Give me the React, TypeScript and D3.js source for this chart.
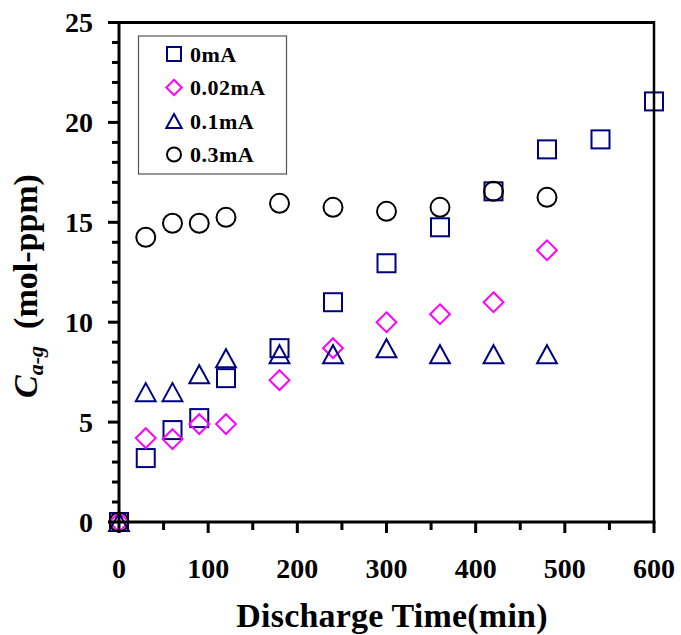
import React from "react";
import * as d3 from "d3";

// Discharge time (min) sampled for each series
const times0 = [0, 30, 60, 90, 120, 180, 240, 300, 360, 420, 480, 540, 600];
const values0mA = [0, 3.2, 4.6, 5.2, 7.2, 8.7, 11.0, 12.95, 14.75, 16.55, 18.65, 19.15, 21.05];

const times = [0, 30, 60, 90, 120, 180, 240, 300, 360, 420, 480];
const values002mA = [0, 4.2, 4.15, 4.9, 4.9, 7.1, 8.7, 10.0, 10.4, 11.0, 13.6];
const values01mA = [0, 6.5, 6.5, 7.4, 8.2, 8.4, 8.4, 8.7, 8.4, 8.4, 8.4];
const values03mA = [0, 14.25, 14.95, 14.95, 15.25, 15.95, 15.75, 15.55, 15.75, 16.55, 16.25];

const legendLabels = ["0mA", "0.02mA", "0.1mA", "0.3mA"];
const xTicks = [0, 100, 200, 300, 400, 500, 600];
const yTicks = [0, 5, 10, 15, 20, 25];

const NAVY = "#000080";
const MAGENTA = "#FF00FF";
const FONT = "'Liberation Serif', 'Times New Roman', serif";

type Shape = "square" | "diamond" | "triangle" | "circle";

function Marker({ shape, cx, cy, s, color }: { shape: Shape; cx: number; cy: number; s: number; color: string }) {
  const h = s / 2;
  const common = { fill: "none", stroke: color, strokeWidth: 2 };
  if (shape === "square") return <rect x={cx - h} y={cy - h} width={s} height={s} {...common} />;
  if (shape === "circle") return <circle cx={cx} cy={cy} r={h} {...common} />;
  if (shape === "diamond") {
    const d = h * 1.1;
    return <path d={`M${cx},${cy - d}L${cx + d},${cy}L${cx},${cy + d}L${cx - d},${cy}Z`} {...common} />;
  }
  const w = h * 1.1;
  return <path d={`M${cx},${cy - h}L${cx + w},${cy + h}L${cx - w},${cy + h}Z`} {...common} strokeLinejoin="miter" />;
}

export default function App() {
  const W = 681, H = 635;
  const x = d3.scaleLinear().domain([0, 600]).range([119, 654]);
  const y = d3.scaleLinear().domain([0, 25]).range([522, 22.5]);

  const series: { shape: Shape; color: string; t: number[]; v: number[] }[] = [
    { shape: "square", color: NAVY, t: times0, v: values0mA },
    { shape: "diamond", color: MAGENTA, t: times, v: values002mA },
    { shape: "triangle", color: NAVY, t: times, v: values01mA },
    { shape: "circle", color: "#000", t: times, v: values03mA },
  ];

  const yMinor = d3.range(0, 26, 1);
  const xMinor = d3.range(0, 601, 50);

  return (
    <svg width={W} height={H} style={{ position: "absolute", left: 0, top: 0, background: "#fff" }}>
      {/* data markers */}
      {series.map((s, si) =>
        s.t.map((t, i) => (
          <Marker key={`${si}-${i}`} shape={s.shape} cx={x(t)} cy={y(s.v[i])} s={s.shape === "circle" ? 19 : 18} color={s.color} />
        ))
      )}

      {/* frame */}
      <g stroke="#000" strokeWidth={3} fill="none">
        <line x1={x(0)} x2={x(600)} y1={y(25)} y2={y(25)} />
        <line x1={x(600)} x2={x(600)} y1={y(25) - 1.5} y2={y(0)} strokeWidth={2.5} />
        <line x1={x(0)} x2={x(0)} y1={y(25) - 1.5} y2={y(0) + 1.5} />
        <line x1={x(0) - 1.5} x2={x(600) + 1.5} y1={y(0)} y2={y(0)} />
      </g>

      {/* ticks */}
      <g stroke="#000" strokeWidth={3}>
        {yMinor.map((v) => (
          <line key={v} x1={x(0) - (v % 5 === 0 ? 11 : 7)} x2={x(0)} y1={y(v)} y2={y(v)} />
        ))}
        {xMinor.map((t) => (
          <line key={t} x1={x(t)} x2={x(t)} y1={y(0)} y2={y(0) + (t % 100 === 0 ? 11 : 8)} />
        ))}
      </g>

      {/* tick labels */}
      <g fontFamily={FONT} fontWeight="bold" fontSize={28} fill="#000">
        {yTicks.map((v) => (
          <text key={v} x={93} y={y(v)} dy="0.35em" textAnchor="end">{v}</text>
        ))}
        {xTicks.map((t) => (
          <text key={t} x={x(t)} y={578} textAnchor="middle">{t}</text>
        ))}
      </g>

      {/* axis titles */}
      <text x={392} y={627} textAnchor="middle" fontFamily={FONT} fontWeight="bold" fontSize={34} letterSpacing={0.2}>
        Discharge Time(min)
      </text>
      <text transform="translate(37,286) rotate(-90)" textAnchor="middle" fontFamily={FONT} fontWeight="bold" fontSize={34}>
        <tspan fontStyle="italic">C</tspan>
        <tspan fontStyle="italic" fontSize={22} dy={6}>a-g</tspan>
        <tspan dy={-6} xmlSpace="preserve">{"  (mol-ppm)"}</tspan>
      </text>

      {/* legend */}
      <rect x={138.5} y={36} width={148} height={138} fill="#fff" stroke="#555" strokeWidth={1.2} />
      {series.map((s, i) => {
        const cy = 54 + i * 33.5;
        return (
          <g key={i}>
            <Marker shape={s.shape} cx={174} cy={cy} s={14} color={s.color} />
            <text x={190} y={cy} dy="0.35em" fontFamily={FONT} fontWeight="bold" fontSize={22} letterSpacing={0.5}>{legendLabels[i]}</text>
          </g>
        );
      })}
    </svg>
  );
}
